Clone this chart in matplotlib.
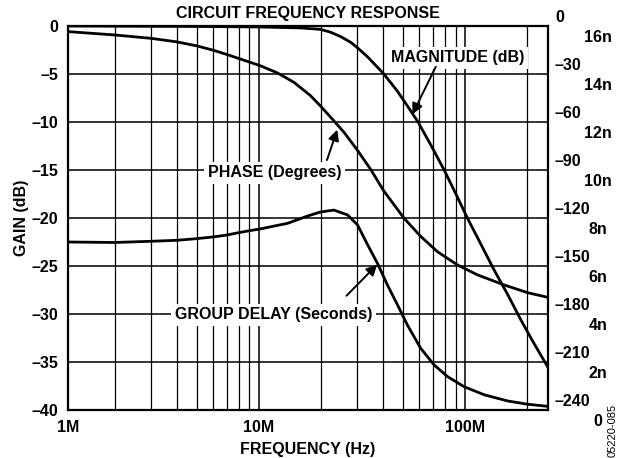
import matplotlib.pyplot as plt
import matplotlib.transforms as mtransforms
import numpy as np

plt.rcParams['font.family'] = ['Liberation Sans', 'DejaVu Sans']
plt.rcParams['font.weight'] = 'bold'
plt.rcParams['axes.labelweight'] = 'bold'
plt.rcParams['axes.titleweight'] = 'bold'
plt.rcParams['font.size'] = 11.5

# magnitude, frequency in MHz
mag_freq = [1.19, 5.2, 10, 15.9, 19.9, 22.3, 24.9, 27.9, 30.2, 33.6, 36.1, 40.2,
            47.0, 55.1, 59.1, 68.2, 79.1, 90.2, 102.5, 119, 138, 161, 186, 216, 251]
mag_db = [0, -0.05, -0.1, -0.2, -0.35, -0.65, -1.1, -1.7, -2.3, -3.2, -3.9, -4.95,
          -6.8, -9.0, -10, -12.4, -15, -17.5, -20, -22.7, -25.4, -28.0, -30.6,
          -33.1, -35.5]

# phase in degrees
phase_freq = [1.19, 2, 3, 4, 5, 6, 7, 8, 9, 10.2, 12.3, 14.8, 17.8, 19.9, 22.3,
              25.9, 30, 34.8, 40.3, 50.6, 60.9, 73.5, 91.9, 115, 155, 201, 246]
phase_deg = [-3.5, -5.6, -7.7, -9.9, -12.4, -15.1, -17.8, -20.3, -22.5, -24.9,
             -29.3, -35.2, -43.5, -50, -57, -66.5, -77.5, -89.5, -103, -120.2,
             -131.5, -141.1, -149.4, -155.6, -161.9, -166.7, -169.3]

# group delay in ns
delay_freq = [1.19, 2, 3, 4, 5, 6, 7, 8, 9, 10.1, 13.8, 17.2, 19.9, 23.1, 26.9,
              30.1, 33.6, 37.6, 42.0, 47.0, 52.5, 60.9, 70.7, 82.2, 98.9, 124,
              161, 201, 246]
delay_ns = [7.0, 6.98, 7.03, 7.07, 7.14, 7.21, 7.29, 7.39, 7.47, 7.54, 7.78, 8.08,
            8.25, 8.33, 8.13, 7.71, 6.9, 6.11, 5.21, 4.38, 3.54, 2.57, 1.88, 1.39,
            0.97, 0.63, 0.375, 0.24, 0.16]

XMIN, XMAX = 1.19, 252
x_major = [XMIN, 10, 100]
x_major_labels = ['1M', '10M', '100M']
x_minor = [2, 3, 4, 5, 6, 7, 8, 9, 20, 30, 40, 50, 60, 70, 80, 90, 200]

gain_ticks = [0, -5, -10, -15, -20, -25, -30, -35, -40]
phase_ticks = [0, -30, -60, -90, -120, -150, -180, -210, -240]
delay_ticks = [0, 2, 4, 6, 8, 10, 12, 14, 16]


def dash(t):
    return ('\u2013' + str(-t)) if t < 0 else str(t)


fig = plt.figure(figsize=(6.26, 4.58), dpi=100)
ax = fig.add_axes([68 / 626, 48 / 458, 480 / 626, 384 / 458])
ax_phase = ax.twinx()
ax_delay = ax.twinx()

# gain axis with the grid
ax.set_xscale('log')
ax.set_xlim(XMIN, XMAX)
ax.set_ylim(-40, 0)
ax.set_xticks(x_major)
ax.set_xticklabels(x_major_labels)
ax.set_xticks(x_minor, minor=True)
ax.xaxis.set_minor_formatter(plt.NullFormatter())
ax.set_yticks(gain_ticks)
ax.set_yticklabels([dash(t) for t in gain_ticks])
ax.grid(which='major', color='k', lw=1.1)
ax.grid(which='minor', axis='x', color='k', lw=0.9)
ax.tick_params(which='both', length=0)
ax.tick_params(axis='y', pad=7)
ax.tick_params(axis='x', pad=7)
for s in ax.spines.values():
    s.set_linewidth(1.6)

ax.plot(mag_freq, mag_db, color='k', lw=2.0)

# phase axis, labels sit just above their grid line
ax_phase.set_ylim(-240, 0)
ax_phase.set_yticks(phase_ticks)
ax_phase.set_yticklabels([dash(t) for t in phase_ticks])
ax_phase.tick_params(length=0, pad=5)
up = mtransforms.ScaledTranslation(0, 10 / 100, fig.dpi_scale_trans)
for lab in ax_phase.get_yticklabels():
    lab.set_transform(lab.get_transform() + up)
ax_phase.plot(phase_freq, phase_deg, color='k', lw=2.0)

# group delay axis, labels just below their grid line
ax_delay.set_ylim(0, 16)
ax_delay.set_yticks(delay_ticks)
ax_delay.set_yticklabels([(str(t) + 'n') if t > 0 else '0' for t in delay_ticks])
ax_delay.tick_params(length=0, pad=36)
down = mtransforms.ScaledTranslation(0, -10 / 100, fig.dpi_scale_trans)
for lab in ax_delay.get_yticklabels():
    lab.set_transform(lab.get_transform() + down)
    lab.set_horizontalalignment('center')
ax_delay.plot(delay_freq, delay_ns, color='k', lw=2.0)

for a in (ax_phase, ax_delay):
    for s in a.spines.values():
        s.set_visible(False)

ax.set_title('CIRCUIT FREQUENCY RESPONSE', fontsize=11.5, pad=6)
ax.set_xlabel('FREQUENCY (Hz)', labelpad=5)
ax.set_ylabel('GAIN (dB)', labelpad=2)

# curve labels with arrows
box = dict(facecolor='white', edgecolor='none', pad=2.5)
arrow = dict(arrowstyle='-|>', color='k', lw=1.4, mutation_scale=16,
             shrinkA=0, shrinkB=0)
ax.text(92, -3.33, 'MAGNITUDE (dB)', ha='center', va='center', bbox=box)
ax.annotate('', xy=(55.5, -9.2), xytext=(72.1, -4.24), arrowprops=arrow)
ax.text(11.9, -15.3, 'PHASE (Degrees)', ha='center', va='center', bbox=box)
ax.annotate('', xy=(24.0, -10.8), xytext=(21.4, -13.96), arrowprops=arrow)
ax.text(11.8, -30.1, 'GROUP DELAY (Seconds)', ha='center', va='center', bbox=box)
ax.annotate('', xy=(37.5, -24.85), xytext=(26.6, -28.1), arrowprops=arrow)

fig.text(613 / 626, 1 - 430 / 458, '05220-085', rotation=90, ha='center',
         va='center', fontsize=8, fontweight='normal')

fig.savefig('out.png', dpi=100)
